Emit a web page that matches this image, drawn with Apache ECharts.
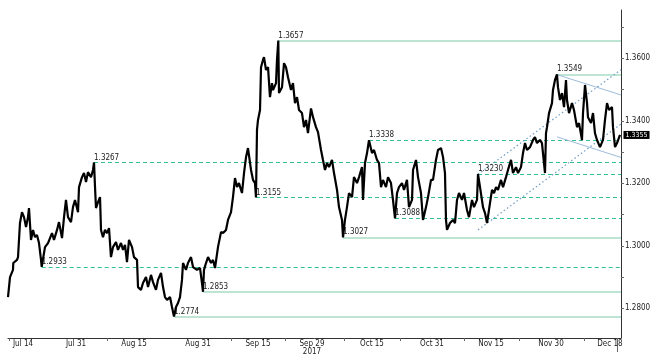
<!DOCTYPE html>
<html><head><meta charset="utf-8">
<script src="https://cdn.jsdelivr.net/npm/echarts@6/dist/echarts.min.js"></script>
<style>html,body{margin:0;padding:0;background:#fff}#c{width:658px;height:360px}</style>
</head><body><div id="c"></div>
<script>
// time in trading days from the first bar
const t = [0.0,0.38,0.94,1.0,1.70,1.89,2.26,2.64,3.02,3.40,3.77,3.96,4.34,4.72,5.09,5.47,5.85,6.23,6.36,6.98,
7.55,8.30,8.68,9.25,9.62,10.19,10.57,10.94,11.32,11.89,12.26,12.64,13.21,13.40,13.96,14.34,14.72,15.09,15.66,16.04,
16.23,16.42,16.60,16.98,17.36,17.55,17.92,18.30,18.68,19.06,19.43,19.81,20.38,20.75,21.32,21.70,22.08,22.45,22.83,23.40,
23.77,24.34,24.53,25.09,25.47,26.04,26.42,26.98,27.36,27.92,28.30,28.87,29.25,29.62,30.00,30.57,30.94,31.32,31.70,32.08,
32.45,32.83,33.02,33.58,33.96,34.53,34.91,35.28,35.66,36.23,36.60,36.79,36.98,37.36,37.74,38.30,38.68,39.06,39.43,39.62,
40.19,40.57,41.13,41.51,42.08,42.45,42.83,43.21,43.58,44.15,44.53,44.91,45.28,45.85,46.23,46.60,46.79,46.98,47.17,47.55,
47.74,48.11,48.30,48.68,49.06,49.43,49.81,50.00,50.57,50.75,51.0,51.13,51.70,52.08,52.45,52.83,53.40,53.77,54.15,54.53,
54.91,55.47,55.85,56.23,56.60,57.17,57.55,58.11,58.49,59.06,59.43,59.81,60.19,60.57,61.13,61.51,62.08,62.45,63.02,63.21,
63.58,63.96,64.34,64.91,65.28,65.85,66.23,66.79,66.98,67.36,67.74,68.11,68.68,69.06,69.62,70.00,70.38,70.75,71.32,71.70,
72.26,72.64,73.02,73.40,73.77,74.34,74.72,75.28,75.66,76.23,76.42,76.98,77.36,77.92,78.30,78.87,79.25,79.81,80.19,80.75,
81.13,81.70,82.08,82.45,82.64,82.83,83.40,83.96,84.34,84.72,85.09,85.66,86.04,86.60,86.98,87.55,87.92,88.49,88.68,89.06,
89.62,90.00,90.38,90.75,91.32,91.70,92.08,92.45,93.02,93.40,93.96,94.34,94.91,95.28,95.85,96.23,96.79,97.17,97.55,97.92,
98.49,99.06,99.43,99.81,100.38,100.75,100.94,101.32,101.51,101.70,102.08,102.64,102.83,103.21,103.58,103.77,104.15,104.53,104.91,105.28,
105.47,105.85,106.42,106.79,107.36,107.74,108.30,108.49,108.87,109.25,109.43,110.00,110.38,110.75,111.13,111.70,112.26,112.64,113.02,113.40,
113.96,114.15,114.53,114.91,115.47];
const price = [1.2836,1.2900,1.2923,1.2945,1.2955,1.2964,1.3073,1.3108,1.3092,1.3060,1.3092,1.3121,1.3019,1.3051,1.3028,1.3035,1.3009,1.2955,1.2933,1.2996,
1.3009,1.3041,1.3019,1.3051,1.3076,1.3025,1.3092,1.3147,1.3092,1.3076,1.3124,1.3147,1.3108,1.3188,1.3220,1.3233,1.3204,1.3236,1.3220,1.3243,
1.3267,1.3188,1.3121,1.3140,1.3156,1.3051,1.3028,1.3051,1.3041,1.3057,1.2964,1.2996,1.3012,1.2987,1.3009,1.2987,1.3003,1.2948,1.3019,1.2996,
1.2964,1.2955,1.2868,1.2859,1.2881,1.2900,1.2868,1.2907,1.2884,1.2859,1.2891,1.2913,1.2868,1.2836,1.2827,1.2836,1.2804,1.2774,1.2804,1.2817,
1.2836,1.2891,1.2945,1.2923,1.2945,1.2964,1.2932,1.2929,1.2923,1.2929,1.2881,1.2853,1.2923,1.2945,1.2964,1.2945,1.2955,1.2929,1.2923,1.2996,
1.3044,1.3041,1.3051,1.3083,1.3108,1.3156,1.3217,1.3188,1.3201,1.3169,1.3233,1.3284,1.3313,1.3243,1.3211,1.3201,1.3155,1.3371,1.3403,1.3435,
1.3572,1.3595,1.3604,1.3563,1.3572,1.3476,1.3521,1.3499,1.3521,1.3595,1.3657,1.3489,1.3508,1.3585,1.3572,1.3540,1.3499,1.3521,1.3457,1.3476,
1.3435,1.3425,1.3380,1.3403,1.3361,1.3440,1.3412,1.3380,1.3364,1.3307,1.3275,1.3243,1.3265,1.3252,1.3275,1.3233,1.3179,1.3124,1.3083,1.3027,
1.3083,1.3124,1.3169,1.3156,1.3220,1.3201,1.3220,1.3252,1.3147,1.3265,1.3297,1.3338,1.3297,1.3307,1.3275,1.3265,1.3188,1.3211,1.3188,1.3220,
1.3201,1.3147,1.3088,1.3169,1.3188,1.3201,1.3179,1.3211,1.3124,1.3147,1.3243,1.3275,1.3220,1.3169,1.3083,1.3124,1.3156,1.3211,1.3211,1.3275,
1.3307,1.3313,1.3284,1.3233,1.3083,1.3051,1.3073,1.3083,1.3073,1.3147,1.3169,1.3147,1.3169,1.3115,1.3092,1.3147,1.3124,1.3147,1.3230,1.3188,
1.3124,1.3105,1.3073,1.3115,1.3179,1.3169,1.3188,1.3179,1.3211,1.3188,1.3220,1.3243,1.3275,1.3233,1.3252,1.3233,1.3252,1.3297,1.3329,1.3307,
1.3316,1.3339,1.3348,1.3329,1.3339,1.3329,1.3297,1.3233,1.3361,1.3380,1.3425,1.3457,1.3499,1.3531,1.3549,1.3508,1.3467,1.3489,1.3444,1.3531,
1.3467,1.3425,1.3457,1.3435,1.3380,1.3393,1.3339,1.3425,1.3515,1.3457,1.3412,1.3393,1.3425,1.3361,1.3339,1.3316,1.3339,1.3403,1.3457,1.3435,
1.3444,1.3380,1.3316,1.3329,1.3355];

const xTickLabels = ['Jul 14','Jul 31','Aug 15','Aug 31','Sep 15','Sep 29\n2017','Oct 15','Oct 31','Nov 15','Nov 30','Dec 18'];
const xTickLabelTimes = [2.83,12.83,23.77,35.85,47.17,57.36,68.68,80.0,91.13,102.45,113.58];
const xTickTimes = [0.2,18.68,42.2,52.26,63.45,73.96,86.04,96.42,108.68];
const yTickLabels = [1.28,1.30,1.32,1.34,1.36];
const yTicks = [1.28,1.29,1.30,1.31,1.32,1.33,1.34,1.35,1.36,1.37];

const levels = [1.3657,1.3549,1.3338,1.3267,1.3230,1.3155,1.3088,1.3027,1.2933,1.2853,1.2774];
const levelTimes = [51.0,103.58,68.11,16.23,88.68,46.79,73.02,63.21,6.36,36.79,31.32];
const solidLevels = [1.3657,1.3549,1.3027,1.2853,1.2774];
// trend channels: [start, end] as [time, price]
const fallingChannel = [[[103.58,1.3548],[115.66,1.3483]],[[103.58,1.3349],[115.66,1.3283]]];
const risingChannel = [[[88.68,1.3229],[115.66,1.3564]],[[88.68,1.3051],[115.66,1.3390]]];

const T_MAX = 115.66;
const FONT = "'Liberation Sans Narrow','Arial Narrow','DejaVu Sans Condensed',sans-serif";

const lastIdx = price.length - 1;
const markLineData = [];
levels.forEach((lv, i) => {
  const solid = solidLevels.includes(lv);
  markLineData.push([
    {coord:[levelTimes[i], lv],
     lineStyle: solid ? {color:'#a9dcc6', width:1.5, type:'solid', opacity:1}
                      : {color:'#30bf92', width:1.1, type:[4,3], dashOffset:0, cap:'butt', opacity:1},
     label:{show:true, formatter: lv.toFixed(4), position:'insideStartTop', distance:[0,1],
            color:'#222', fontSize:8, fontFamily:FONT}},
    {coord:[T_MAX, lv]}
  ]);
});
fallingChannel.forEach(seg => markLineData.push([
  {coord:seg[0], lineStyle:{color:'#9dbcdb', width:1, type:'solid', opacity:1}, label:{show:false}},
  {coord:seg[1]}
]));
risingChannel.forEach(seg => markLineData.push([
  {coord:seg[0], lineStyle:{color:'#6f9cc8', width:1.2, type:[1.5,2.5], opacity:1}, label:{show:false}},
  {coord:seg[1]}
]));

const chart = echarts.init(document.getElementById('c'), null, {renderer:'canvas'});
chart.setOption({
  animation:false,
  backgroundColor:'#fff',
  grid:{left:8, right:37, top:10, bottom:22},
  xAxis:[{
    type:'value', min:0, max:T_MAX,
    splitLine:{show:false},
    axisLine:{show:true, onZero:false, lineStyle:{color:'#333', width:1}},
    axisTick:{show:true, customValues:xTickTimes, length:3, lineStyle:{color:'#666'}},
    axisLabel:{show:true, customValues:xTickLabelTimes, margin:2, fontSize:8, lineHeight:8, color:'#222', fontFamily:FONT,
      formatter:(v)=>{let b=0;for(let i=1;i<xTickLabelTimes.length;i++){if(Math.abs(xTickLabelTimes[i]-v)<Math.abs(xTickLabelTimes[b]-v))b=i;}return xTickLabels[b];}}
  },{
    type:'value', min:0, max:T_MAX, position:'bottom',
    splitLine:{show:false}, axisLine:{show:false, onZero:false},
    axisTick:{show:true, customValues:[114.9], length:14, lineStyle:{color:'#666'}},
    axisLabel:{show:false}
  }],
  yAxis:{
    type:'value', position:'right', min:1.2705, max:1.3755, scale:true,
    splitLine:{show:false},
    axisLine:{show:true, onZero:false, lineStyle:{color:'#333', width:1}},
    axisTick:{show:true, customValues:yTicks, length:3, lineStyle:{color:'#666'}},
    axisLabel:{show:true, customValues:yTickLabels, margin:4, fontSize:8, color:'#222', fontFamily:FONT,
      formatter:(v)=>v.toFixed(4)}
  },
  series:[{
    type:'line', xAxisIndex:0, yAxisIndex:0,
    data:t.map((d,i)=>[d, price[i]]),
    showSymbol:false, symbol:'none',
    lineStyle:{color:'#000', width:2.2},
    z:5,
    markLine:{silent:true, symbol:['none','none'], animation:false, data:markLineData, z:3},
    markPoint:{silent:true, animation:false, data:[{
      coord:[t[lastIdx], price[lastIdx]], symbol:'rect', symbolSize:[1,1], itemStyle:{color:'rgba(0,0,0,0)'},
      label:{show:true, position:'right', distance:3, formatter:price[lastIdx].toFixed(4),
        backgroundColor:'#000', color:'#fff', fontSize:7, fontFamily:FONT, padding:[1,2,0,2], lineHeight:7}
    }]}
  }]
});
</script></body></html>
